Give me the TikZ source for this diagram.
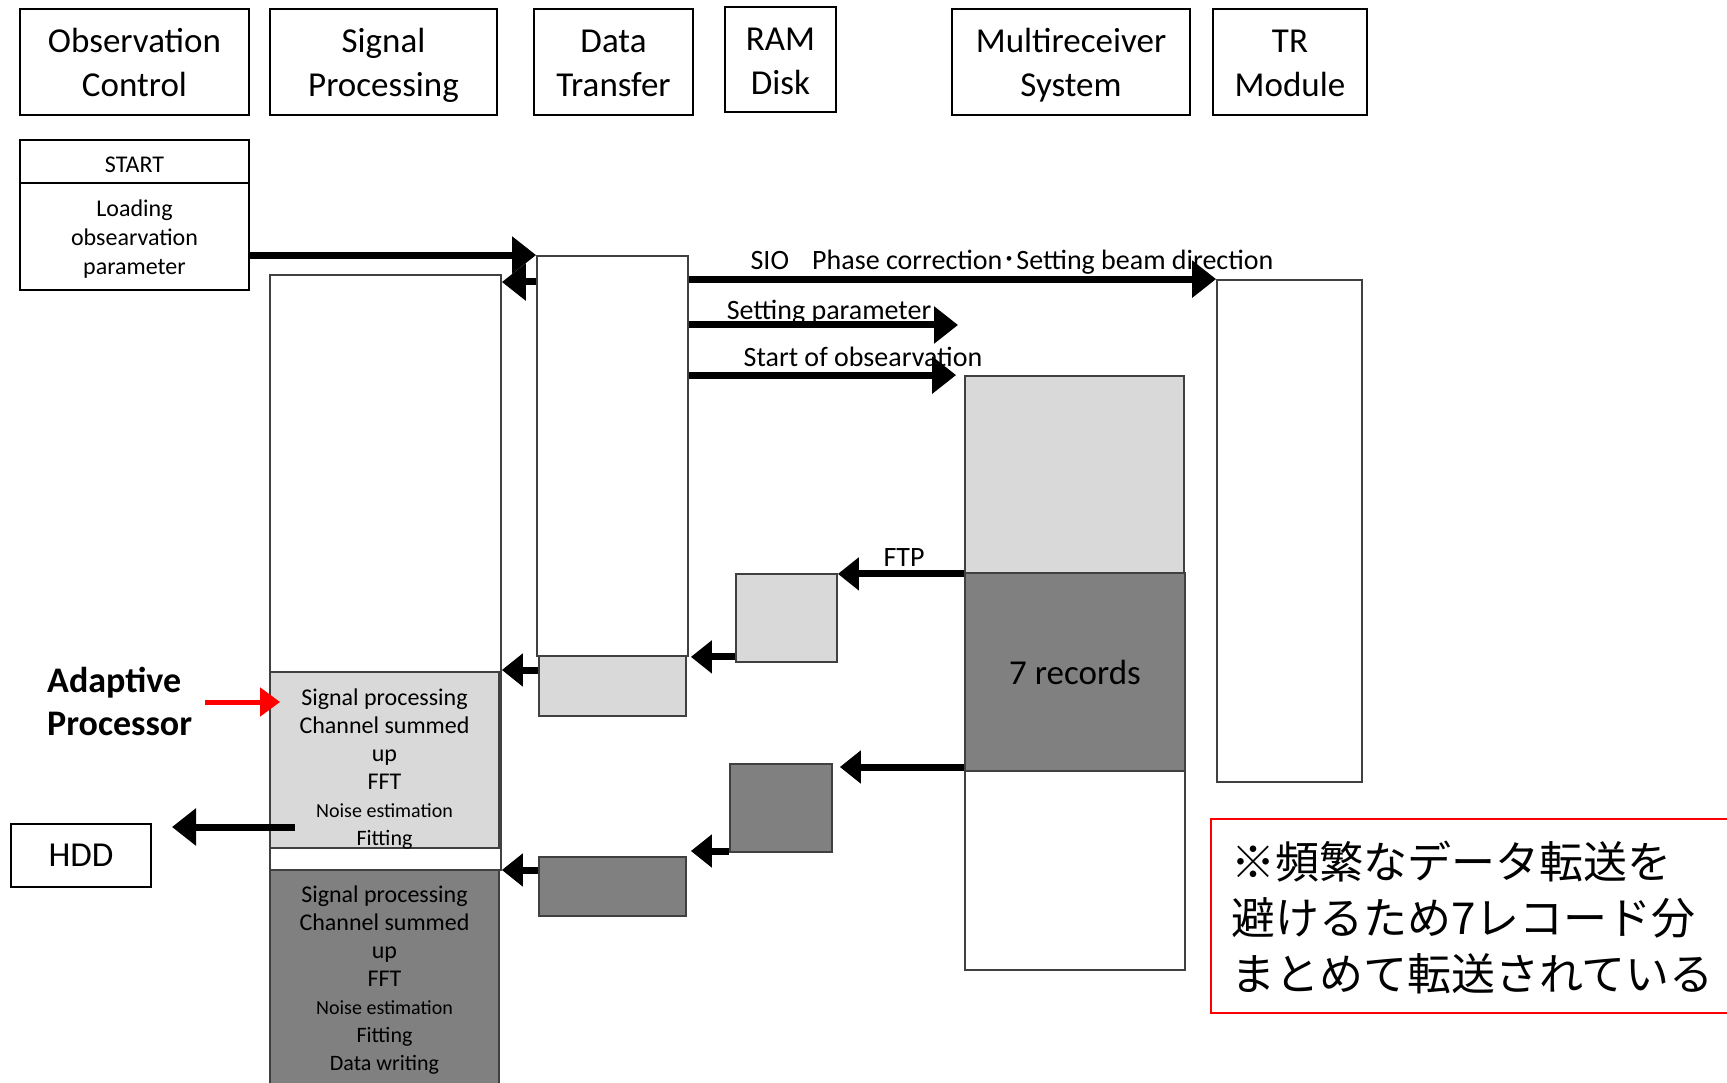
\documentclass[tikz,border=0pt]{standalone}
\usepackage{fontspec}
\setmainfont{Carlito}
\newfontfamily\cjk{Noto Sans CJK JP}
\usetikzlibrary{arrows.meta,fit}
\definecolor{lgray}{HTML}{D9D9D9}
\definecolor{dgray}{HTML}{808080}
\definecolor{edgec}{HTML}{404040}
\newcommand\fsz[2]{\fontsize{#1}{#2}\selectfont}
\newcommand\tstrut{\rule{0pt}{27pt}}
\newcommand\bstrut{\rule[-9pt]{0pt}{9pt}}
\begin{document}
\begin{tikzpicture}[x=1pt,y=-1pt,
  hdr/.style={draw=black, line width=2pt, inner sep=0pt},
  hdrtext/.style={align=center, font=\fsz{35}{44}, inner sep=0pt, yshift=-4pt},
  smallbox/.style={draw=black, line width=2pt, inner sep=0pt},
  smalltext/.style={align=center, font=\fsz{24}{29}, inner sep=0pt, yshift=-3pt},
  life/.style={draw=edgec, line width=1.8pt, fill=white, inner sep=0pt},
  lightbox/.style={draw=edgec, line width=1.8pt, fill=lgray, inner sep=0pt},
  darkbox/.style={draw=edgec, line width=1.8pt, fill=dgray, inner sep=0pt},
  arr/.style={line width=7pt, -{Triangle[length=24pt,width=36pt]}},
  sarr/.style={line width=7pt, -{Triangle[length=21pt,width=32pt]}},
  redarr/.style={draw=red, line width=5pt, -{Triangle[length=20pt,width=28pt]}},
  lbl/.style={font=\fsz{28}{32}, inner sep=0pt},
  proc/.style={align=center, font=\fsz{24}{28}, inner sep=0pt}
]
\useasboundingbox (0,0) rectangle (1727,1083);

% headers
\node[hdr, fit={(20,9) (249,115)}, label={[hdrtext]center:\tstrut Observation\\Control\bstrut}] (hOC) {};
\node[hdr, fit={(270,9) (497,115)}, label={[hdrtext]center:\tstrut Signal\\Processing\bstrut}] (hSP) {};
\node[hdr, fit={(534,9) (693,115)}, label={[hdrtext]center:\tstrut Data\\Transfer\bstrut}] (hDT) {};
\node[hdr, fit={(725,7) (836,112)}, label={[hdrtext]center:\tstrut RAM\\Disk\bstrut}] (hRAM) {};
\node[hdr, fit={(952,9) (1190,115)}, label={[hdrtext]center:\tstrut Multireceiver\\System\bstrut}] (hMR) {};
\node[hdr, fit={(1213,9) (1367,115)}, label={[hdrtext]center:\tstrut TR\\Module\bstrut}] (hTR) {};

% observation control
\node[smallbox, fit={(20,140) (249,183)}, label={[smalltext]center:START}] (start) {};
\node[smallbox, fit={(20,183) (249,290)}, label={[smalltext]center:Loading\\obsearvation\\parameter}] (loading) {};

% lifelines
\node[life, fit={(270,275) (501,870)}] (splife) {};
\node[lightbox, fit={(270,672) (499,848)}] (splight) {};
\node[darkbox, fit={(270,870) (499,1095)}] (spdark) {};
\node[proc] (sptext1) at (384.5,769) {Signal processing\\Channel summed\\up\\FFT\\{\fsz{20}{28}Noise estimation}\\{\fsz{22}{28}Fitting}};
\node[proc] (sptext2) at (384.5,980) {Signal processing\\Channel summed\\up\\FFT\\{\fsz{20}{28}Noise estimation}\\{\fsz{22}{28}Fitting}\\{\fsz{22}{28}Data writing}};

\node[life, fit={(537,256) (688,656)}] (dtlife) {};
\node[lightbox, fit={(539,656) (686,716)}] (dtlight) {};
\node[darkbox, fit={(539,857) (686,916)}] (dtdark) {};

\node[lightbox, fit={(736,574) (837,662)}] (ramlight) {};
\node[darkbox, fit={(730,764) (832,852)}] (ramdark) {};

\node[lightbox, fit={(965,376) (1184,573)}] (mrlight) {};
\node[darkbox, fit={(965,573) (1185,771)}, label={[font=\fsz{35}{40}, inner sep=0pt]center:7 records}] (mrdark) {};
\node[life, fit={(965,771) (1185,970)}] (mrwhite) {};

\node[life, fit={(1217,280) (1362,782)}] (trlife) {};

% HDD
\node[hdr, fit={(11,824) (151,887)}, label={[align=center, font=\fsz{35}{44}, inner sep=0pt]center:HDD}] (hdd) {};

% adaptive processor
\node[anchor=west, align=left, font=\bfseries\fsz{36}{43}, inner sep=0pt] (adapt) at (47,701) {Adaptive\\Processor};
\coordinate (redsrc) at (205,702);

% note
\node[draw=red, line width=1.5pt, inner sep=0pt, fit={(1211,819) (1740,1013)}] (notebox) {};
\node[anchor=west, align=left, font=\cjk\fsz{44}{56}, inner sep=0pt] (note) at (1231,918) {※頻繁なデータ転送を\\避けるため7レコード分\\まとめて転送されている};

% coordinates for free ends
\coordinate (setend) at (958,325);
\coordinate (hddsrc) at (295,827);

% arrows
\draw[arr] (loading.east |- dtlife.north) -- (dtlife.north west);
\draw[arr] (dtlife.west |- 0,282) -- (splife.east |- 0,282);
\draw[arr] (dtlife.east |- trlife.north) -- (trlife.north west);
\draw[arr] (dtlife.east |- setend) -- (setend);
\draw[arr] (dtlife.east |- mrlight.north) -- ([xshift=-8pt]mrlight.north west);
\draw[sarr] (mrlight.south west) -- (ramlight.east |- mrlight.south);
\draw[sarr] (ramlight.west |- dtlife.south) -- ([xshift=2pt]dtlife.south east);
\draw[sarr] (dtlight.west |- 0,670) -- (splife.east |- 0,670);
\draw[sarr] (mrdark.west |- 0,767) -- ([xshift=7pt]ramdark.east |- 0,767);
\draw[sarr] (ramdark.west |- 0,851) -- ([xshift=4pt]dtdark.east |- 0,851);
\draw[sarr] (dtdark.west |- 0,870) -- (splife.east |- 0,870);
\draw[arr] (hddsrc) -- ([xshift=20pt]hdd.east |- hddsrc);
\draw[redarr] (redsrc) -- ([xshift=11pt]splight.west |- redsrc);

% labels
\node[lbl] (lsio) at (1012,262) {SIO\hspace{0.6em} Phase correction{\cjk ･}Setting beam direction};
\node[lbl] (lset) at (829,312) {Setting parameter};
\node[lbl] (lstart) at (863,357) {Start of obsearvation};
\node[lbl] (lftp) at (904,558) {FTP};
\end{tikzpicture}
\end{document}
